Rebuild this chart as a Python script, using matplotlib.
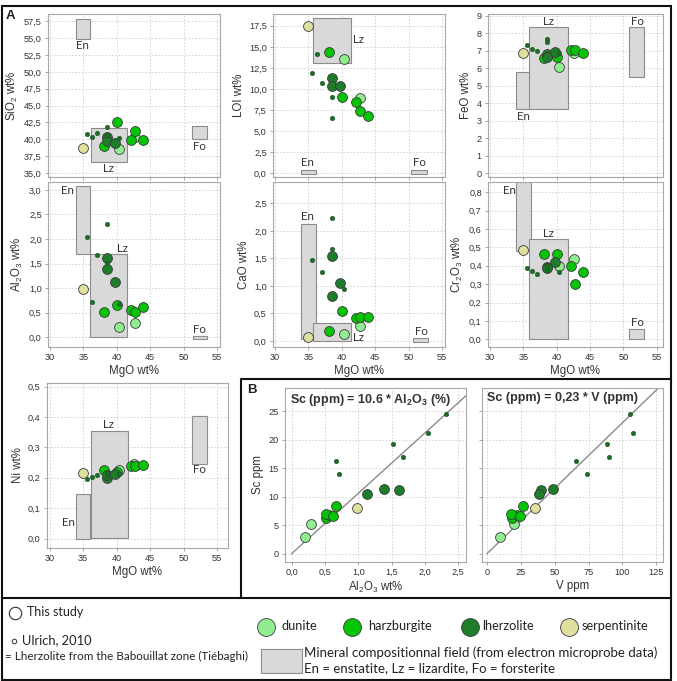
import numpy as np
import matplotlib
matplotlib.use('Agg')
import matplotlib.pyplot as plt
from matplotlib.patches import Rectangle
from matplotlib.ticker import FuncFormatter, MultipleLocator

nan = np.nan
W, H = 677, 681

# ---------------- data : this study ----------------
rock  = ['serpentinite', 'dunite', 'dunite', 'harzburgite', 'harzburgite', 'harzburgite',
         'harzburgite', 'harzburgite', 'lherzolite', 'lherzolite', 'lherzolite']
mgo   = [35.0, 40.4, 42.65, 38.1, 40.1, 42.1, 42.75, 43.9, 38.6, 38.5, 39.7]
sio2  = [38.7, 38.6, 40.3, 39.0, 42.5, 39.85, 41.3, 39.85, 40.3, 39.7, 39.45]
loi   = [17.5, 13.6, 8.9, 14.4, 9.1, 8.4, 7.4, 6.8, 11.3, 10.4, 10.4]
feo   = [6.85, 6.09, 6.9, 6.56, 6.66, 7.04, 7.05, 6.9, 6.8, 6.65, 6.95]
al2o3 = [0.98, 0.20, 0.29, 0.52, 0.66, 0.56, 0.52, 0.62, 1.61, 1.39, 1.13]
cao   = [0.08, 0.13, 0.27, 0.19, 0.54, 0.42, 0.44, 0.43, 1.55, 0.82, 1.05]
cr2o3 = [0.488, 0.399, 0.436, 0.463, 0.463, 0.401, 0.303, 0.368, 0.396, 0.39, 0.423]
ni    = [0.2165, 0.227, 0.244, 0.225, 0.22, 0.24, 0.24, 0.242, 0.20, 0.209, 0.212]
sc    = [8.1, 2.9, 5.15, 6.3, 8.4, 6.8, 6.9, 6.6, 11.1, 11.4, 10.4]
v     = [35.75, 9.25, 20.0, 18.5, 26.25, 22.5, 18.0, 24.0, 40.0, 48.75, 38.25]

# ---------------- data : Ulrich, 2010 (lherzolites) ----------------
u_mgo   = [38.6, 35.6, 38.6, 37.1, 36.3, 40.4]
u_sio2  = [41.8, 40.8, 40.6, 40.9, 40.3, 40.2]
u_loi   = [9.1, 11.9, 6.6, 10.7, 14.1, nan]
u_feo   = [7.67, 7.32, 7.48, 7.0, 7.08, 6.9]
u_al2o3 = [2.31, 2.05, 1.52, 1.67, 0.71, 0.67]
u_cao   = [2.23, 1.48, 1.67, 1.26, nan, 0.94]
u_cr2o3 = [0.377, 0.387, 0.40, 0.357, 0.372, 0.367]
u_ni    = [0.205, 0.195, 0.215, 0.209, 0.202, 0.212]
u_sc    = [24.5, 21.2, 19.2, 17.0, 14.0, 16.3]
u_v     = [105.5, 107.5, 88.75, 90.0, 74.0, 65.75]

# ---------------- mineral fields (x0, x1, y0, y1) ----------------
fields = {
    'SiO2':  {'En': (33.9, 36.0, 54.9, 57.85), 'Lz': (36.1, 41.5, 36.7, 41.7), 'Fo': (51.25, 53.5, 40.05, 41.9)},
    'LOI':   {'En': (33.85, 36.1, -0.08, 0.4), 'Lz': (35.75, 41.35, 13.06, 18.4), 'Fo': (50.4, 52.75, -0.08, 0.4)},
    'FeO':   {'En': (33.9, 36.15, 3.65, 5.8), 'Lz': (35.8, 41.7, 3.65, 8.37), 'Fo': (50.9, 53.15, 5.52, 8.37)},
    'Al2O3': {'En': (33.9, 36.0, 1.69, 3.08), 'Lz': (36.0, 41.5, 0.0, 1.69), 'Fo': (51.4, 53.5, -0.034, 0.027)},
    'CaO':   {'En': (33.9, 36.1, 0.036, 2.125), 'Lz': (35.75, 41.35, 0.0, 0.32), 'Fo': (50.6, 52.85, -0.01, 0.05)},
    'Cr2O3': {'En': (33.9, 36.15, 0.481, 1.0), 'Lz': (35.8, 41.7, 0.0, 0.544), 'Fo': (50.9, 53.15, 0.0, 0.054)},
    'Ni':    {'En': (33.98, 36.08, 0.0, 0.148), 'Lz': (36.2, 41.65, 0.003, 0.354), 'Fo': (51.2, 53.5, 0.247, 0.403)},
}
field_labels = {
    'SiO2':  {'En': (34.9, 53.9), 'Lz': (38.75, 35.6), 'Fo': (52.4, 39.0)},
    'LOI':   {'En': (34.85, 1.25), 'Lz': (42.5, 15.9), 'Fo': (51.6, 1.3)},
    'FeO':   {'En': (35.0, 3.23), 'Lz': (38.75, 8.7), 'Fo': (52.15, 8.7)},
    'Al2O3': {'En': (32.65, 2.98), 'Lz': (40.85, 1.8), 'Fo': (52.4, 0.16)},
    'CaO':   {'En': (34.9, 2.26), 'Lz': (42.5, 0.06), 'Fo': (51.85, 0.18)},
    'Cr2O3': {'En': (32.85, 0.81), 'Lz': (38.85, 0.573), 'Fo': (52.05, 0.09)},
    'Ni':    {'En': (32.75, 0.052), 'Lz': (38.8, 0.376), 'Fo': (52.4, 0.227)},
}

colors = {'dunite': '#90EE90', 'harzburgite': '#05C405', 'lherzolite': '#1E7D2A',
          'serpentinite': '#DDE09E'}
u_color = '#1E6B2A'
draw_order = ['serpentinite', 'dunite', 'harzburgite', 'lherzolite']

plt.rcParams['font.family'] = ['Liberation Sans', 'DejaVu Sans']
plt.rcParams['mathtext.default'] = 'regular'

fig = plt.figure(figsize=(W / 100, H / 100), dpi=100)


def add_ax(x0, y0, x1, y1):
    return fig.add_axes([x0 / W, 1 - y1 / H, (x1 - x0) / W, (y1 - y0) / H])


def comma(fmt):
    return FuncFormatter(lambda val, pos: (fmt % val).replace('.', ','))


def style(ax, xlim, ylim, ystep, yfmt, xstep, xfmt, showx=True, showy=True):
    ax.set_xlim(*xlim)
    ax.set_ylim(*ylim)
    ax.yaxis.set_major_locator(MultipleLocator(ystep))
    ax.xaxis.set_major_locator(MultipleLocator(xstep))
    ax.yaxis.set_major_formatter(comma(yfmt))
    ax.xaxis.set_major_formatter(comma(xfmt))
    ax.grid(True, color='#cfcfcf', linestyle=(0, (2, 2)), linewidth=0.6, zorder=0)
    ax.set_axisbelow(True)
    for s in ax.spines.values():
        s.set_color('#a8a8a8')
        s.set_linewidth(0.8)
    ax.tick_params(direction='out', length=2.5, width=0.6, color='#999999',
                   labelsize=6.6, labelcolor='#333333', pad=2)
    if not showx:
        ax.tick_params(axis='x', labelbottom=False)
    if not showy:
        ax.tick_params(axis='y', labelleft=False)


def scatter_all(ax, xs, ys, uxs, uys):
    xs, ys = np.array(xs), np.array(ys)
    r = np.array(rock)
    for k in draw_order:
        m = r == k
        ax.scatter(xs[m], ys[m], s=50, c=colors[k], edgecolors='#3a3a3a',
                   linewidths=0.6, zorder=3)
    ax.scatter(uxs, uys, s=11, c=u_color, edgecolors='#154d1d', linewidths=0.3, zorder=4)


def draw_fields(ax, key):
    for name, (x0, x1, y0, y1) in fields[key].items():
        ax.add_patch(Rectangle((x0, y0), x1 - x0, y1 - y0, facecolor='#D9D9D9',
                               edgecolor='#8c8c8c', linewidth=0.8, zorder=1))
        lx, ly = field_labels[key][name]
        ax.text(lx, ly, name, ha='center', va='center', fontsize=8.3,
                family=['Lato', 'DejaVu Sans'], color='#333333', zorder=5)


mg_xlim = (29.7, 55.45)
mg_xlim3 = (29.7, 55.95)

panels = [
    ('SiO2', (48, 14, 220, 177), mg_xlim, (34.4, 58.6), 2.5, '%.1f', 'SiO$_2$ wt%', sio2, u_sio2, False),
    ('LOI', (273, 14, 445, 177), mg_xlim, (-0.44, 18.9), 2.5, '%.1f', 'LOI wt%', loi, u_loi, False),
    ('FeO', (488, 14, 663, 177), mg_xlim3, (-0.21, 9.1), 1, '%d', 'FeO wt%', feo, u_feo, False),
    ('Al2O3', (48, 182, 220, 347), mg_xlim, (-0.2, 3.16), 0.5, '%.1f', 'Al$_2$O$_3$ wt%', al2o3, u_al2o3, True),
    ('CaO', (273, 182, 445, 347), mg_xlim, (-0.11, 2.89), 0.5, '%.1f', 'CaO wt%', cao, u_cao, True),
    ('Cr2O3', (488, 182, 663, 347), mg_xlim3, (-0.042, 0.856), 0.1, '%.1f', 'Cr$_2$O$_3$ wt%', cr2o3, u_cr2o3, True),
    ('Ni', (47, 383, 228, 548), (29.6, 56.6), (-0.031, 0.512), 0.1, '%.1f', 'Ni wt%', ni, u_ni, True),
]

for key, box, xlim, ylim, ystep, yfmt, ylab, ys, uys, showx in panels:
    ax = add_ax(*box)
    style(ax, xlim, ylim, ystep, yfmt, 5, '%d', showx=showx)
    draw_fields(ax, key)
    scatter_all(ax, mgo, ys, u_mgo, uys)
    ax.set_ylabel(ylab, fontsize=8.3, color='#333333', labelpad=3)
    if showx:
        ax.set_xlabel('MgO wt%', fontsize=8.3, color='#333333', labelpad=2)

# ---------------- panel B ----------------
sc_ylim = (-1.47, 29.1)
axb1 = add_ax(285, 388, 466, 562)
style(axb1, (-0.1, 2.617), sc_ylim, 5, '%d', 0.5, '%.1f')
xx = np.linspace(0, 3, 10)
axb1.plot(xx, 10.6 * xx, color='#8a8a8a', linewidth=1.0, zorder=2)
scatter_all(axb1, al2o3, sc, u_al2o3, u_sc)
axb1.set_ylabel('Sc ppm', fontsize=8.3, color='#333333', labelpad=3)
axb1.set_xlabel('Al$_2$O$_3$ wt%', fontsize=8.3, color='#333333', labelpad=2)
axb1.text(0.03, 0.975, 'Sc (ppm) = 10.6 * Al$_2$O$_3$ (%)', transform=axb1.transAxes,
          ha='left', va='top', fontsize=9, fontweight='bold', color='#333333', zorder=6)

axb2 = add_ax(482, 388, 663, 562)
style(axb2, (-3.7, 129.9), sc_ylim, 5, '%d', 25, '%d', showy=False)
xx = np.linspace(0, 140, 10)
axb2.plot(xx, 0.23 * xx, color='#8a8a8a', linewidth=1.0, zorder=2)
scatter_all(axb2, v, sc, u_v, u_sc)
axb2.set_xlabel('V ppm', fontsize=8.3, color='#333333', labelpad=2)
axb2.text(0.03, 0.975, 'Sc (ppm) = 0,23 * V (ppm)', transform=axb2.transAxes,
          ha='left', va='top', fontsize=9, fontweight='bold', color='#333333', zorder=6)

# ---------------- overlay : frames, panel letters, legend ----------------
ov = fig.add_axes([0, 0, 1, 1], zorder=10)
ov.set_xlim(0, W)
ov.set_ylim(H, 0)
ov.axis('off')
ov.patch.set_alpha(0)

lw = 1.5
ov.add_patch(Rectangle((2, 6), 669, 674, fill=False, edgecolor='#111111', linewidth=lw))
ov.plot([2, 671], [597.5, 597.5], color='#111111', linewidth=lw)
ov.plot([241, 241, 671], [597.5, 379, 379], color='#111111', linewidth=lw)

ov.text(10, 16, 'A', fontsize=9.5, fontweight='bold', ha='center', va='center', color='#222222')
ov.text(251.5, 390, 'B', fontsize=9.5, fontweight='bold', ha='center', va='center', color='#222222')

lfam = ['Lato', 'DejaVu Sans']
ov.scatter([15], [613.3], s=80, facecolors='white', edgecolors='#333333', linewidths=0.8)
ov.text(27, 612.5, 'This study', fontsize=9.0, family=lfam, va='center', ha='left', color='#222222')
ov.scatter([14], [641], s=11, facecolors='white', edgecolors='#333333', linewidths=0.7)
ov.text(21.5, 640.5, 'Ulrich, 2010', fontsize=9.3, family=lfam, va='center', ha='left', color='#222222')
ov.text(5, 656.7, '= Lherzolite from the Babouillat zone (Tiébaghi)', fontsize=8.4, family=lfam,
        va='center', ha='left', color='#222222')

leg_x = [265.7, 352, 470.3, 569.3]
leg_tx = [281.7, 367.7, 482, 582]
for k, cx, tx in zip(['dunite', 'harzburgite', 'lherzolite', 'serpentinite'], leg_x, leg_tx):
    ov.scatter([cx], [626.7], s=165, c=colors[k], edgecolors='#3a3a3a', linewidths=0.6)
    ov.text(tx, 626.2, k, fontsize=9.2, family=lfam, va='center', ha='left', color='#222222')

ov.add_patch(Rectangle((260.7, 649), 41, 23.7, facecolor='#D9D9D9', edgecolor='#8c8c8c', linewidth=0.8))
ov.text(304, 652.5, 'Mineral compositionnal field (from electron microprobe data)', fontsize=9.5,
        family=lfam, va='center', ha='left', color='#222222')
ov.text(304, 668.3, 'En = enstatite, Lz = lizardite, Fo = forsterite', fontsize=9.5,
        family=lfam, va='center', ha='left', color='#222222')

fig.savefig('out.png', dpi=100)
